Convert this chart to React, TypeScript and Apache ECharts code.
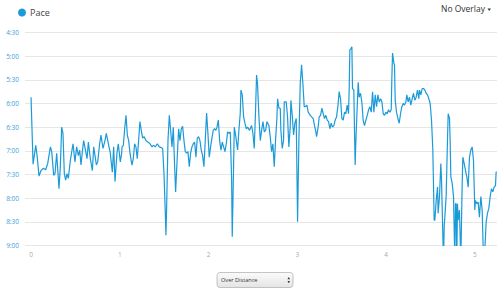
import React, { useEffect, useRef } from "react";
import * as echarts from "echarts";

// Distance (km) of each sample
const distanceKm = [
  0.0, 0.023, 0.053, 0.068, 0.09, 0.113, 0.139, 0.165, 0.188, 0.218, 0.233, 0.255, 0.27, 0.289, 0.315, 0.33, 0.345, 0.36, 0.375, 0.39,
  0.405, 0.42, 0.443, 0.473, 0.495, 0.514, 0.533, 0.548, 0.563, 0.578, 0.593, 0.616, 0.631, 0.646, 0.668, 0.691, 0.706, 0.721, 0.736, 0.751,
  0.773, 0.788, 0.811, 0.833, 0.848, 0.871, 0.893, 0.916, 0.931, 0.946, 0.968, 0.983, 1.006, 1.021,
  1.025, 1.04, 1.055, 1.07, 1.085, 1.1, 1.115, 1.137, 1.152, 1.167, 1.182, 1.197, 1.212, 1.227, 1.242, 1.257, 1.273, 1.295, 1.318, 1.34,
  1.363, 1.378, 1.4, 1.423, 1.445, 1.468, 1.483, 1.498, 1.513, 1.52, 1.528, 1.543, 1.558, 1.573, 1.588, 1.603, 1.618, 1.629, 1.644, 1.663,
  1.678, 1.693, 1.708, 1.723, 1.738, 1.753, 1.768, 1.783, 1.798, 1.813, 1.828, 1.843, 1.858, 1.873, 1.888, 1.903, 1.918, 1.933, 1.948, 1.963,
  1.978, 1.993, 2.008, 2.023, 2.038, 2.053, 2.068, 2.083,
  2.095, 2.11, 2.125, 2.14, 2.155, 2.17, 2.185, 2.2, 2.215, 2.23, 2.245, 2.26, 2.267, 2.275, 2.29, 2.305, 2.327, 2.342, 2.357, 2.365,
  2.38, 2.395, 2.41, 2.425, 2.44, 2.462, 2.485, 2.5, 2.515, 2.53, 2.541, 2.552, 2.568, 2.583, 2.598, 2.613, 2.628, 2.643, 2.658, 2.68,
  2.695, 2.71, 2.725, 2.74, 2.755, 2.77, 2.778, 2.793, 2.808, 2.815, 2.83, 2.845, 2.853, 2.875, 2.89, 2.905, 2.92, 2.928, 2.943, 2.958,
  2.973, 2.988, 3.003, 3.018, 3.033, 3.048, 3.063, 3.078, 3.093, 3.108, 3.123, 3.146, 3.161,
  3.179, 3.194, 3.209, 3.217, 3.232, 3.247, 3.262, 3.277, 3.292, 3.307, 3.322, 3.337, 3.352, 3.367, 3.382, 3.397, 3.412, 3.427, 3.442, 3.457,
  3.472, 3.487, 3.502, 3.517, 3.532, 3.547, 3.562, 3.577, 3.585, 3.592, 3.607, 3.615, 3.622, 3.637, 3.645, 3.652, 3.66, 3.675, 3.686, 3.697,
  3.712, 3.727, 3.742, 3.757, 3.773, 3.788, 3.803, 3.818, 3.833, 3.848, 3.863, 3.878, 3.893, 3.908, 3.923, 3.938, 3.953, 3.968, 3.983, 3.998,
  4.013, 4.028, 4.043, 4.058, 4.065, 4.073, 4.088, 4.095, 4.103, 4.118, 4.133, 4.148, 4.163, 4.178, 4.193, 4.208, 4.223,
  4.234, 4.249, 4.264, 4.279, 4.294, 4.309, 4.324, 4.339, 4.354, 4.369, 4.377, 4.392, 4.407, 4.422, 4.437, 4.452, 4.467, 4.482, 4.497, 4.512,
  4.527, 4.535, 4.542, 4.55, 4.565, 4.58, 4.587, 4.602, 4.617, 4.625, 4.632, 4.647, 4.655, 4.662, 4.677, 4.692, 4.7, 4.715, 4.722, 4.73,
  4.745, 4.76, 4.775, 4.782, 4.79, 4.797, 4.805, 4.812, 4.827, 4.842, 4.857, 4.865, 4.88, 4.895, 4.91, 4.925, 4.94, 4.955, 4.97, 4.985,
  5.0, 5.007, 5.023, 5.038, 5.052, 5.068, 5.083, 5.098, 5.113, 5.128, 5.143, 5.158, 5.173, 5.188, 5.203, 5.218, 5.233, 5.24, 5.248,
];

// Pace in seconds per km for each sample
const paceSec = [
  352, 437, 413, 426, 452, 445, 442, 444, 436, 415, 421, 451, 449, 423, 468, 440, 390, 398, 449, 457,
  449, 455, 432, 411, 434, 415, 426, 419, 438, 421, 407, 421, 430, 409, 430, 445, 415, 426, 438, 434,
  411, 400, 417, 407, 398, 411, 423, 447, 415, 459, 423, 411, 434, 423,
  415, 413, 392, 375, 400, 407, 423, 438, 430, 411, 415, 430, 407, 383, 394, 404, 402, 407, 409, 411,
  415, 413, 415, 411, 415, 416, 417, 449, 499, 527, 491, 407, 375, 394, 415, 390, 440, 472, 436, 392,
  407, 392, 389, 407, 421, 423, 421, 440, 423, 415, 411, 409, 428, 404, 402, 407, 419, 426, 440, 407,
  372, 398, 428, 415, 404, 394, 392, 394,
  390, 381, 407, 419, 409, 415, 421, 411, 396, 398, 396, 457, 529, 483, 390, 400, 419, 394, 373, 343,
  349, 377, 385, 392, 390, 394, 388, 398, 417, 368, 324, 335, 377, 407, 394, 383, 396, 394, 383, 388,
  402, 421, 411, 440, 407, 379, 354, 366, 366, 394, 417, 407, 358, 358, 377, 415, 390, 356, 375, 400,
  385, 379, 510, 407, 335, 311, 335, 364, 364, 362, 371, 375, 377,
  379, 388, 396, 402, 392, 377, 375, 366, 373, 379, 375, 381, 383, 392, 385, 390, 388, 381, 377, 364,
  345, 354, 379, 381, 371, 373, 362, 373, 339, 292, 290, 288, 341, 343, 398, 438, 407, 364, 333, 352,
  347, 358, 381, 388, 381, 375, 368, 364, 371, 345, 371, 349, 364, 349, 358, 354, 358, 373, 375, 371,
  373, 368, 371, 368, 330, 296, 309, 311, 356, 371, 379, 385, 373, 364, 360, 362, 358,
  349, 358, 352, 362, 354, 347, 356, 352, 343, 354, 343, 349, 341, 341, 343, 347, 349, 354, 360, 381,
  419, 466, 508, 508, 483, 466, 499, 478, 436, 457, 491, 560, 516, 504, 478, 407, 373, 379, 407, 453,
  461, 478, 560, 487, 487, 560, 487, 508, 495, 560, 466, 428, 436, 445, 453, 466, 428, 419, 415, 432,
  495, 483, 487, 485, 504, 478, 495, 560, 545, 510, 499, 493, 478, 468, 472, 466, 464, 447, 447,
];

const yTickLabels = ["4:30", "5:00", "5:30", "6:00", "6:30", "7:00", "7:30", "8:00", "8:30", "9:00"];
const xTickLabels = ["0", "1", "2", "3", "4", "5"];

const FONT = "'Open Sans', 'DejaVu Sans', sans-serif";
const LINE_COLOR = "#1b9ad8";

export default function App() {
  const ref = useRef<HTMLDivElement>(null);

  useEffect(() => {
    if (!ref.current) return;
    const chart = echarts.init(ref.current, undefined, { renderer: "svg" });
    const data = distanceKm.map((d, i) => [d, paceSec[i]]);
    chart.setOption({
      animation: false,
      textStyle: { fontFamily: FONT },
      grid: { left: 25, right: 3, top: 32.5, bottom: 47.5, containLabel: false },
      legend: {
        data: ["Pace"],
        left: 13,
        top: 3,
        icon: "circle",
        itemWidth: 8,
        itemHeight: 8,
        itemGap: 4,
        textStyle: { fontSize: 9, color: "#444", fontFamily: FONT, padding: [0, 0, 0, -1] },
      },
      xAxis: {
        type: "value",
        min: -0.068,
        max: 5.25,
        axisLine: { show: false },
        axisTick: { show: false },
        splitLine: { show: false },
        axisLabel: {
          customValues: [0, 1, 2, 3, 4, 5],
          formatter: (v: number) => xTickLabels[Math.round(v)] ?? "",
          color: "#aaa",
          fontSize: 6.5,
          margin: 5,
          fontFamily: FONT,
        },
      },
      yAxis: {
        type: "value",
        inverse: true,
        min: 270,
        max: 540,
        interval: 30,
        axisLine: { show: false },
        axisTick: { show: false },
        splitLine: { lineStyle: { color: "#e6e6e6", width: 1 } },
        axisLabel: {
          formatter: (v: number) => yTickLabels[Math.round((v - 270) / 30)] ?? "",
          color: "#3a9fdc",
          fontSize: 6.5,
          margin: 6,
          fontFamily: FONT,
        },
      },
      series: [
        {
          type: "line",
          name: "Pace",
          data,
          symbol: "none",
          showSymbol: false,
          clip: true,
          lineStyle: { color: LINE_COLOR, width: 1.2 },
          itemStyle: { color: LINE_COLOR },
        },
      ],
      graphic: [
        {
          type: "text",
          left: 441,
          top: 4,
          style: { text: "No Overlay", fontSize: 8.5, fill: "#333", fontFamily: FONT },
        },
        {
          type: "polygon",
          shape: { points: [[487.5, 8.5], [491, 8.5], [489.25, 11]] },
          style: { fill: "#333" },
        },
        {
          type: "rect",
          shape: { x: 217, y: 272.5, width: 76, height: 15, r: 3 },
          style: {
            fill: new echarts.graphic.LinearGradient(0, 0, 0, 1, [
              { offset: 0, color: "#fbfbfb" },
              { offset: 1, color: "#e4e4e4" },
            ]),
            stroke: "#b5b5b5",
            lineWidth: 0.8,
          },
        },
        {
          type: "text",
          left: 221,
          top: 276.5,
          style: { text: "Over Distance", fontSize: 5.6, fill: "#333", fontFamily: FONT },
        },
        {
          type: "polygon",
          shape: { points: [[287.5, 279.2], [290, 279.2], [288.75, 277]] },
          style: { fill: "#333" },
        },
        {
          type: "polygon",
          shape: { points: [[287.5, 281], [290, 281], [288.75, 283.2]] },
          style: { fill: "#333" },
        },
      ],
    });
    return () => chart.dispose();
  }, []);

  return <div ref={ref} style={{ width: 500, height: 293, position: "absolute", left: 0, top: 0 }} />;
}
